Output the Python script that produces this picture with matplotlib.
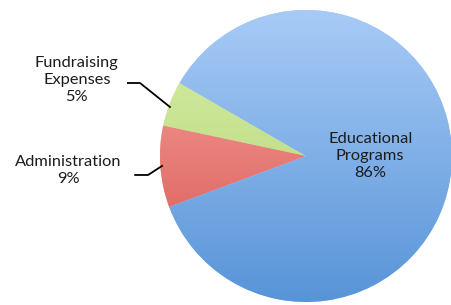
import numpy as np
import matplotlib.pyplot as plt
from matplotlib.colors import LinearSegmentedColormap

labels = ['Fundraising\nExpenses', 'Administration', 'Educational\nPrograms']
values = [5, 9, 86]
top_colors = ['#d9f0a9', '#f6aaa6', '#a8cbf6']
bottom_colors = ['#aed070', '#d9504a', '#5894d8']

plt.rcParams['font.family'] = ['Lato', 'DejaVu Sans']

fig = plt.figure(figsize=(4.51, 3.05), dpi=100)
ax = fig.add_axes([160 / 451, 3 / 305, 292 / 451, 292 / 305])

wedges, _ = ax.pie(values, startangle=150, counterclock=True,
                   colors=top_colors, radius=1)

# vertical gradient fill, clipped to each wedge
grad = np.linspace(0, 1, 256).reshape(-1, 1)
for w, c0, c1 in zip(wedges, top_colors, bottom_colors):
    cmap = LinearSegmentedColormap.from_list('g', [c0, c1])
    im = ax.imshow(grad, cmap=cmap, extent=[-1, 1, -1, 1], aspect='auto',
                   origin='upper', zorder=w.get_zorder())
    im.set_clip_path(w)
    w.set_edgecolor('none')

ax.set_xlim(-1, 1)
ax.set_ylim(-1, 1)
ax.set_aspect('equal')
ax.axis('off')

# labels
txt = dict(ha='center', va='center', fontsize=11.8, color='#1c1c1c',
           linespacing=1.25)
ax.text(-1.57, 0.52, f'{labels[0]}\n{values[0]}%', **txt)
ax.text(-1.63, -0.10, f'{labels[1]}\n{values[1]}%', **txt)
ax.text(0.44, 0.0, f'{labels[2]}\n{values[2]}%', **txt)

# leader lines
ax.plot([-1.22, -1.137, -0.932], [0.5, 0.5, 0.336], color='black', lw=1.3,
        clip_on=False)
ax.plot([-1.17, -1.082, -0.986], [-0.13, -0.13, -0.068], color='black',
        lw=1.3, clip_on=False)

fig.savefig('out.png', dpi=100)
